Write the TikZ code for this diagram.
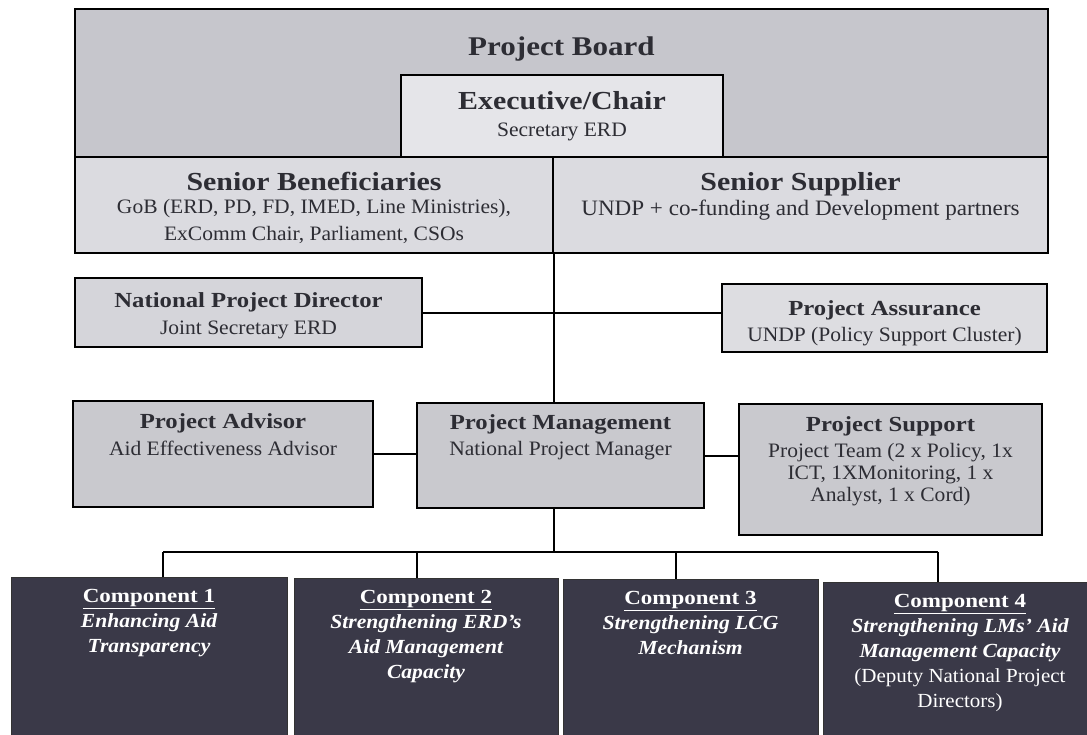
\documentclass[tikz,border=0pt]{standalone}
\usepackage{fontspec}
\setmainfont{Liberation Serif}[FakeStretch=1.05, BoldFeatures={FakeStretch=1.15}, BoldItalicFeatures={FakeStretch=1.08}]
\usepackage{tikz}
\usetikzlibrary{positioning}
\definecolor{board_grey}{RGB}{198,198,204}
\definecolor{senior_grey}{RGB}{219,219,224}
\definecolor{exec_grey}{RGB}{229,229,233}
\definecolor{npd_grey}{RGB}{213,213,218}
\definecolor{pa_grey}{RGB}{221,221,225}
\definecolor{team_grey}{RGB}{201,201,206}
\definecolor{comp_dark}{RGB}{58,57,72}
\definecolor{ink}{RGB}{45,45,52}
\newcommand{\bighead}[1]{{\bfseries\fontsize{26}{25}\selectfont #1}}
\newcommand{\smallhead}[1]{{\bfseries\fontsize{21.5}{25}\selectfont #1}}

\begin{document}
\begin{tikzpicture}[x=1pt, y=1pt,
      box/.style={draw, line width=1.8pt, inner sep=0pt, fill=team_grey},
      comp/.style={draw=black!80, line width=1pt, inner sep=0pt, fill=comp_dark},
      txt/.style={align=center, inner sep=0pt, text=ink, font=\fontsize{20.5}{25}\selectfont},
      ctxt/.style={align=center, inner sep=0pt, text=white, font=\fontsize{20}{25}\selectfont\bfseries\itshape},
      link/.style={line width=2pt}]
    \path[use as bounding box, fill=white] (0,0) rectangle (1087,-734);
    \clip (0,0) rectangle (1087,-734);

    % board
    \node[box, fill=board_grey, minimum width=973pt, minimum height=148pt] (board) at (561.5,-83) {};
    \node[box, fill=exec_grey, minimum width=322pt, minimum height=82pt] (exec) at (562,-116) {};
    \node[box, fill=senior_grey, minimum width=478pt, minimum height=96pt] (ben) at (314,-205) {};
    \node[box, fill=senior_grey, minimum width=495pt, minimum height=96pt] (sup) at (800.5,-205) {};
    \node[txt, below=28pt of board.north] (board-t) {{\bfseries\fontsize{27}{25}\selectfont Project Board}};
    \node[txt, below=17pt of exec.north] (exec-t) {\bighead{Executive/Chair}\\[2pt]Secretary ERD};
    \node[txt, below=16pt of ben.north] (ben-t) {\bighead{Senior Beneficiaries}\\[-2pt]GoB (ERD, PD, FD, IMED, Line Ministries),\\[2pt]ExComm Chair, Parliament, CSOs};
    \node[txt, below=16pt of sup.north] (sup-t) {\bighead{Senior Supplier}\\{\fontsize{22}{25}\selectfont UNDP + co-funding and Development partners}};

    % director and assurance
    \node[box, fill=npd_grey, minimum width=347pt, minimum height=69pt] (npd) at (248.5,-312.5) {};
    \node[box, fill=pa_grey, minimum width=325pt, minimum height=68pt] (pa) at (884.5,-318) {};
    \node[txt, below=15pt of npd.north] (npd-t) {\smallhead{National Project Director}\\[2pt]Joint Secretary ERD};
    \node[txt, below=17pt of pa.north] (pa-t) {\smallhead{Project Assurance}\\[1pt]UNDP (Policy Support Cluster)};

    % management row
    \node[box, minimum width=300pt, minimum height=106pt] (adv) at (223,-454) {};
    \node[box, minimum width=287pt, minimum height=105pt] (pm) at (560.5,-455.5) {};
    \node[box, minimum width=303pt, minimum height=131pt] (ps) at (890.5,-469.5) {};
    \node[txt, below=13pt of adv.north] (adv-t) {\smallhead{Project Advisor}\\[2pt]Aid Effectiveness Advisor};
    \node[txt, below=12pt of pm.north] (pm-t) {\smallhead{Project Management}\\[1pt]National Project Manager};
    \node[txt, below=13pt of ps.north] (ps-t) {\smallhead{Project Support}\\[1pt]Project Team (2 x Policy, 1x\\[-3pt]ICT, 1XMonitoring, 1 x\\[-3pt]Analyst, 1 x Cord)};

    % components
    \node[comp, minimum width=276pt, minimum height=170pt] (c1) at (149,-662) {};
    \node[comp, minimum width=264pt, minimum height=170pt] (c2) at (426,-663) {};
    \node[comp, minimum width=255pt, minimum height=170pt] (c3) at (690.5,-664) {};
    \node[comp, minimum width=274pt, minimum height=170pt] (c4) at (960,-667) {};
    \node[ctxt, below=13pt of c1.north] (c1-t) {\upshape\underline{Component 1}\\Enhancing Aid\\Transparency};
    \node[ctxt, below=13pt of c2.north] (c2-t) {\upshape\underline{Component 2}\\Strengthening ERD's\\Aid Management\\Capacity};
    \node[ctxt, below=13pt of c3.north] (c3-t) {\upshape\underline{Component 3}\\Strengthening LCG\\Mechanism};
    \node[ctxt, below=13pt of c4.north] (c4-t) {\upshape\underline{Component 4}\\Strengthening LMs' Aid\\Management Capacity\\\mdseries\upshape (Deputy National Project\\\mdseries\upshape Directors)};

    % connectors
    \coordinate (d1) at (163,-552);
    \coordinate (d2) at (417,-552);
    \coordinate (d3) at (676,-552);
    \coordinate (d4) at (938,-552);
    \draw[link] (ben.south east) -- (ben.south east |- pm.north);
    \draw[link] (npd.east) -- (pa.west |- npd.east);
    \draw[link] (adv.east) -- (pm.west |- adv.east);
    \draw[link] (pm.east) -- (ps.west |- pm.east);
    \draw[link] (ben.south east |- pm.south) -- (ben.south east |- d1);
    \draw[link] (d1) -- (d4);
    \foreach \i in {1,...,4}
      \draw[link] (d\i) -- (d\i |- c\i.north);
\end{tikzpicture}
\end{document}
